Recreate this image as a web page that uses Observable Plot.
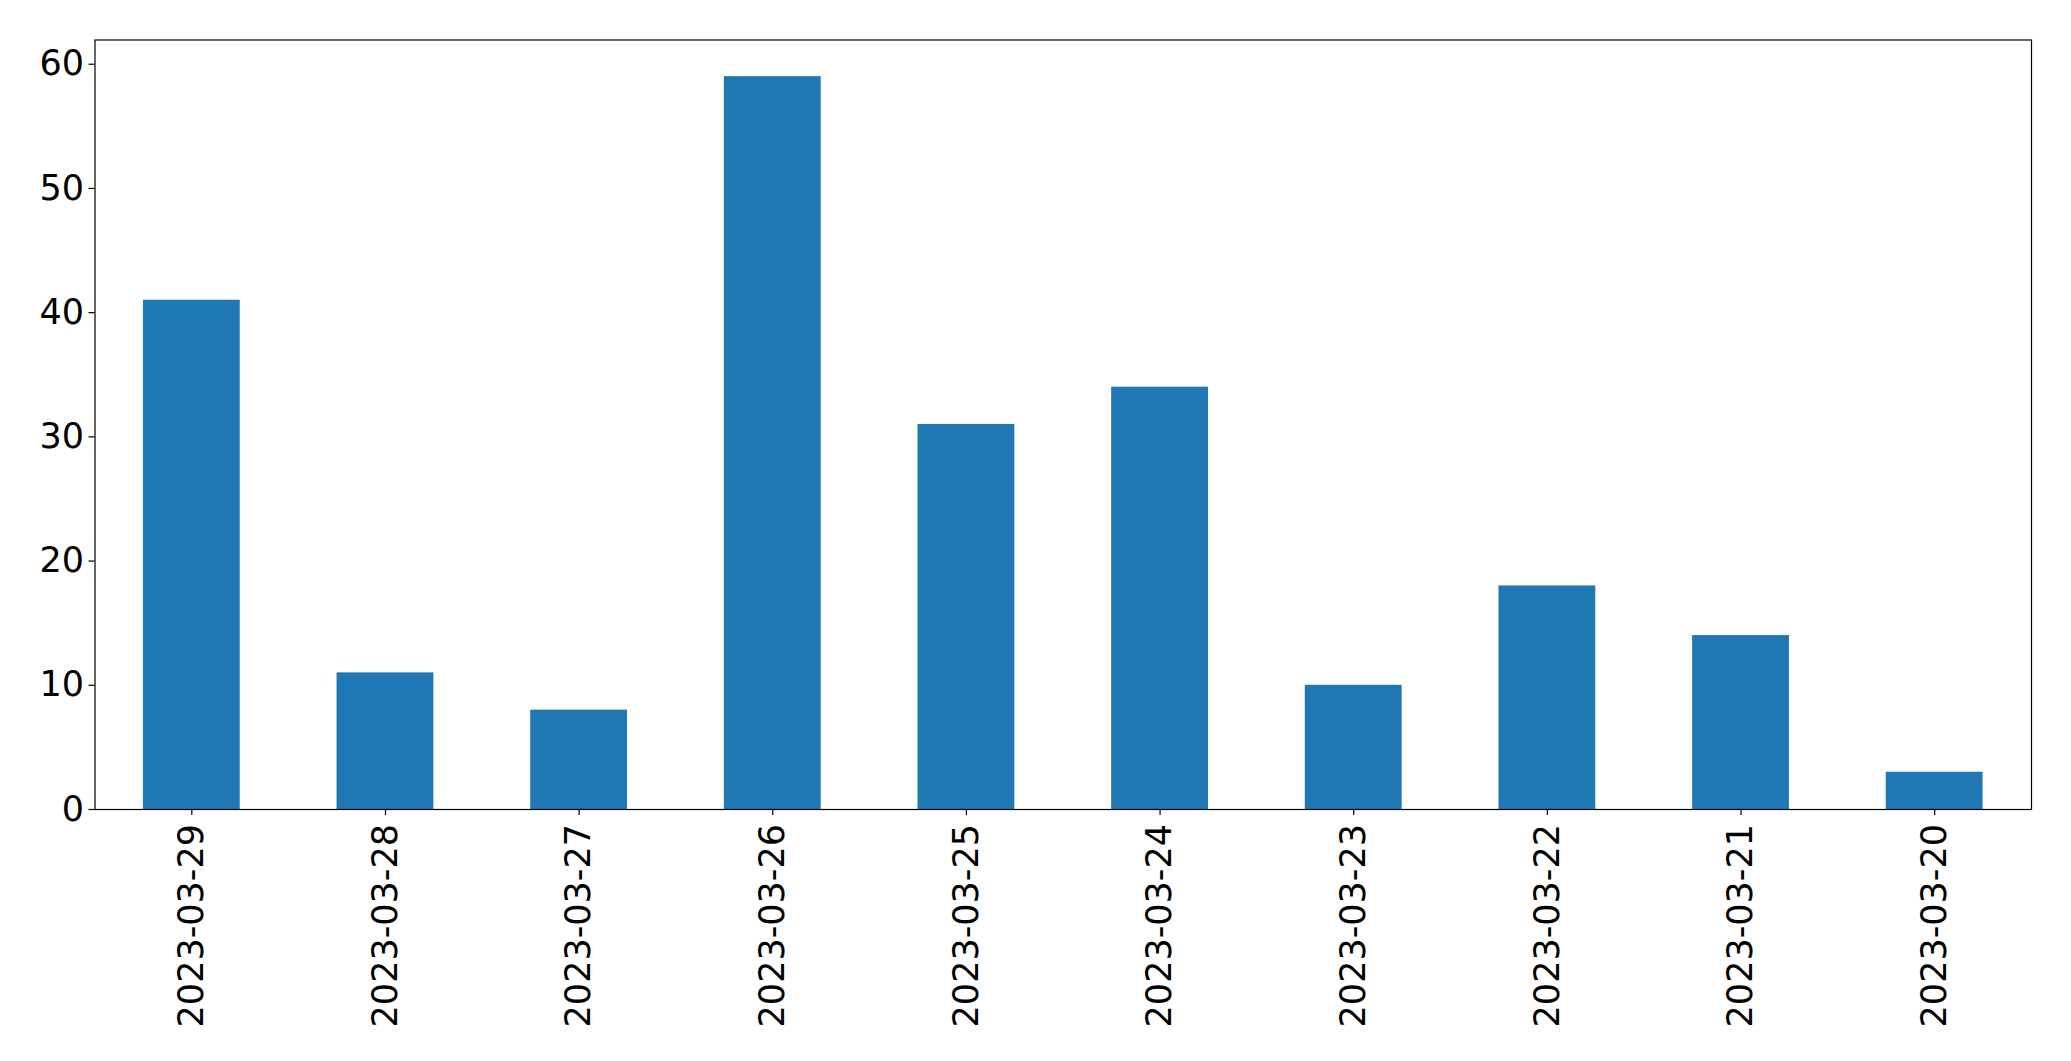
<!DOCTYPE html>
<html>
<head>
<meta charset="utf-8">
<script src="https://cdn.jsdelivr.net/npm/d3@7"></script>
<script src="https://cdn.jsdelivr.net/npm/@observablehq/plot@0.6"></script>
<style>
  html, body { margin: 0; padding: 0; background: #fff; }
  #chart svg { display: block; }
</style>
</head>
<body>
<div id="chart"></div>
<script>
const dates = ["2023-03-29","2023-03-28","2023-03-27","2023-03-26","2023-03-25","2023-03-24","2023-03-23","2023-03-22","2023-03-21","2023-03-20"];
const counts = [41, 11, 8, 59, 31, 34, 10, 18, 14, 3];
const yTicks = [0, 10, 20, 30, 40, 50, 60];

const data = dates.map((d, i) => ({date: d, count: counts[i]}));

const chart = Plot.plot({
  width: 2071,
  height: 1061,
  marginLeft: 94.5,
  marginRight: 40,
  marginTop: 39.5,
  marginBottom: 252,
  style: {fontFamily: "DejaVu Sans", fontSize: "35px", color: "#000", background: "#fff"},
  x: {domain: dates, paddingInner: 0.5, paddingOuter: 0.25, round: false, label: null},
  y: {domain: [0, 61.95], label: null},
  marks: [
    Plot.barY(data, {x: "date", y: "count", fill: "#1f77b4"}),
    Plot.axisY({ticks: yTicks, tickSize: 6, tickPadding: 5, label: null, fontSize: 35, stroke: "#000", strokeWidth: 1.2}),
    Plot.axisX({tickSize: 6, tickPadding: 8.5, tickRotate: -90, label: null, fontSize: 35, stroke: "#000", strokeWidth: 1.2}),
    Plot.frame({stroke: "#000", strokeWidth: 1.2})
  ]
});
document.getElementById("chart").appendChild(chart);
</script>
</body>
</html>
